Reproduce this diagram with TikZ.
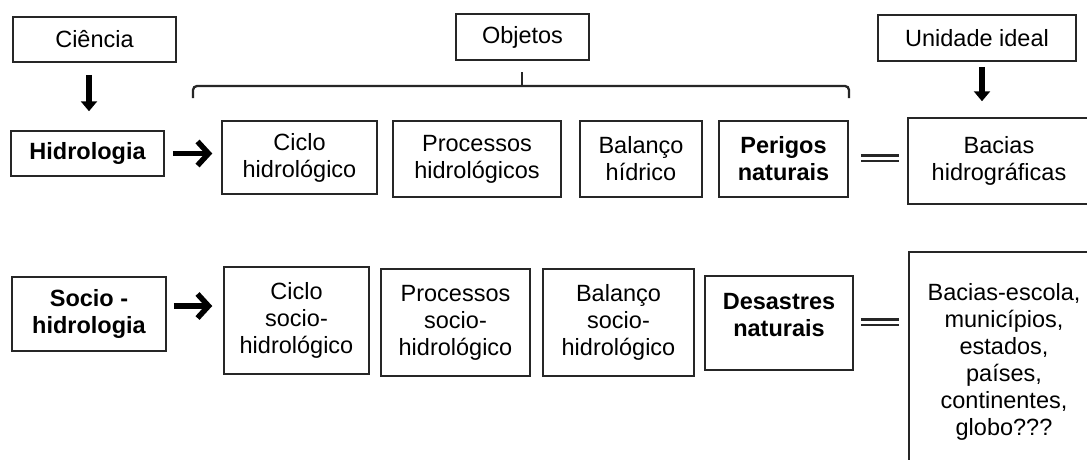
\documentclass[tikz,border=0pt]{standalone}
\usepackage{fontspec}
\setmainfont{Liberation Sans}
\usetikzlibrary{arrows.meta}
\tikzset{
  box/.style={draw=black!85, line width=1.5pt, align=center, inner sep=0pt,
    font=\fontsize{23.5}{27}\selectfont},
  plain/.style={align=center, inner sep=0pt, font=\fontsize{23.5}{27}\selectfont},
  bold/.style={font=\fontsize{23.5}{27}\selectfont\bfseries},
  downarr/.style={line width=6pt, -{Triangle[length=10pt,width=16pt]}},
  rightarr/.style={line width=5.5pt, -{Straight Barb[length=11pt,width=24pt]}},
  eqsign/.style={draw=black!85, double=white, line width=2.8pt, double distance=3pt},
  brace/.style={draw=black!85, line width=2.3pt, rounded corners=4pt}
}
\begin{document}
\begin{tikzpicture}[x=1pt,y=-1pt]
\useasboundingbox (0,0) rectangle (1087,459);
\clip (0,0) rectangle (1087,459);
\fill[white] (0,0) rectangle (1087,459);

% top labels
\node[box, minimum width=163pt, minimum height=45pt] (cien) at (94.5,39.5) {Ciência};
\node[box, minimum width=133pt, minimum height=46pt] (obj) at (522.5,37) {Objetos};
\node[box, minimum width=198pt, minimum height=46pt] (unid) at (977,38) {Unidade ideal};

% row 1
\node[box, bold, minimum width=153pt, minimum height=45pt] (hidro) at (87.5,153.5) {Hidrologia};
\node[box, minimum width=155pt, minimum height=73pt] (ciclo) at (299.5,157.5) {Ciclo\\hidrológico};
\node[box, minimum width=168pt, minimum height=76pt] (proc) at (477,159) {Processos\\hidrológicos};
\node[box, minimum width=122pt, minimum height=76pt] (bal) at (641,159) {Balanço\\hídrico};
\node[box, bold, minimum width=129pt, minimum height=76pt] (perig) at (783.5,159) {Perigos\\naturais};
\node[box, minimum width=182pt, minimum height=86pt] (bac) at (999,161) {Bacias\\hidrográficas};

% row 2
\node[box, bold, minimum width=154pt, minimum height=74pt] (socio) at (89,314) {Socio -\\hidrologia};
\node[box, minimum width=145pt, minimum height=107pt] (ciclo2) at (296.5,320.5) {Ciclo\\socio-\\hidrológico};
\node[box, minimum width=149pt, minimum height=107pt] (proc2) at (455.5,322.5) {Processos\\socio-\\hidrológico};
\node[box, minimum width=151pt, minimum height=107pt] (bal2) at (618.5,322.5) {Balanço\\socio-\\hidrológico};
\node[box, minimum width=148pt, minimum height=94pt] (desast) at (779,323) {};
\node[plain, bold] (desastt) at (779,315) {Desastres\\naturais};
\node[box, minimum width=190pt, minimum height=220pt] (escola) at (1004,362) {Bacias-escola,\\municípios,\\estados,\\países,\\continentes,\\globo???};

% brace over the objects
\coordinate (brL) at (193,98);
\coordinate (brR) at (849,98);
\coordinate (brT) at (522,72);
\draw[brace] (brL) |- (brT |- 0,86) -| (brR);
\draw[brace] (brT |- 0,86) -- (brT);

% arrows
\draw[downarr] ([xshift=-5.5pt,yshift=-12pt]cien.south) -- ([xshift=1.5pt,yshift=19pt]hidro.north);
\draw[downarr] ([xshift=5pt,yshift=-5pt]unid.south) -- ([xshift=-17pt,yshift=16pt]bac.north);
\draw[rightarr] ([xshift=8pt]hidro.east) -- ([xshift=-9pt]hidro.east -| ciclo.west);
\draw[rightarr] ([xshift=7pt,yshift=8pt]socio.east) -- ([xshift=-11pt,yshift=8pt]socio.east -| ciclo2.west);

% equals signs
\draw[eqsign] ([xshift=12pt,yshift=1pt]perig.east) -- ([xshift=-8pt,yshift=1pt]perig.east -| bac.west);
\draw[eqsign] ([xshift=7pt,yshift=1pt]desast.east) -- ([xshift=-9pt,yshift=1pt]desast.east -| escola.west);
\end{tikzpicture}
\end{document}
